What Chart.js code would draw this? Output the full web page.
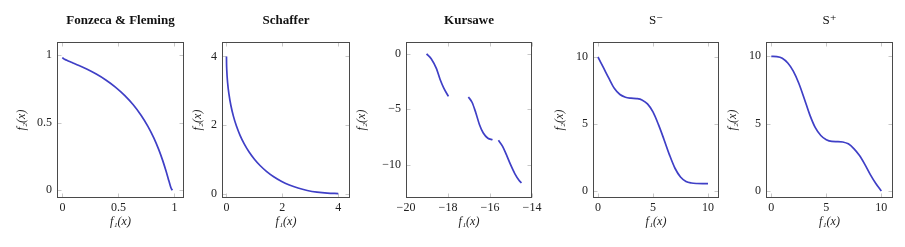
<!DOCTYPE html>
<html>
<head>
<meta charset="utf-8">
<script src="https://cdn.jsdelivr.net/npm/chart.js@4.4.0/dist/chart.umd.min.js"></script>
<style>
  body { margin: 0; background: #fff; width: 905px; height: 247px; overflow: hidden; position: relative; }
  .panel { position: absolute; top: 0; height: 247px; }
</style>
</head>
<body>
<div class="panel" id="p1"><canvas id="c1"></canvas></div>
<div class="panel" id="p2"><canvas id="c2"></canvas></div>
<div class="panel" id="p3"><canvas id="c3"></canvas></div>
<div class="panel" id="p4"><canvas id="c4"></canvas></div>
<div class="panel" id="p5"><canvas id="c5"></canvas></div>
<script>
// Fonzeca & Fleming front
const ffF1 = [0, 0.0100, 0.0392, 0.0861, 0.1479, 0.2212, 0.3023, 0.3874, 0.4727, 0.5551, 0.6321,
              0.7018, 0.7631, 0.8155, 0.8591, 0.8946, 0.9227, 0.9444, 0.9608, 0.9729, 0.9817];
const ffF2 = [0.9817, 0.9729, 0.9608, 0.9444, 0.9227, 0.8946, 0.8591, 0.8155, 0.7631, 0.7018, 0.6321,
              0.5551, 0.4727, 0.3874, 0.3023, 0.2212, 0.1479, 0.0861, 0.0392, 0.0100, 0];

// Schaffer front
const schF1 = [0, 0.0025, 0.01, 0.04, 0.09, 0.16, 0.25, 0.36, 0.49, 0.64, 0.81, 1,
               1.21, 1.44, 1.69, 1.96, 2.25, 2.56, 2.89, 3.24, 3.61, 4];
const schF2 = [4, 3.8025, 3.61, 3.24, 2.89, 2.56, 2.25, 1.96, 1.69, 1.44, 1.21, 1,
               0.81, 0.64, 0.49, 0.36, 0.25, 0.16, 0.09, 0.04, 0.01, 0];

// Kursawe front, three pieces
const kurF1a = [-19.02, -18.80, -18.55, -18.38, -18.20, -17.98];
const kurF2a = [-0.02, -0.45, -1.35, -2.30, -3.10, -3.85];
const kurF1b = [-17.03, -16.85, -16.68, -16.50, -16.32, -16.10, -15.88];
const kurF2b = [-3.90, -4.40, -5.30, -6.40, -7.15, -7.62, -7.75];
const kurF1c = [-15.60, -15.40, -15.22, -15.02, -14.82, -14.62, -14.50];
const kurF2c = [-7.80, -8.35, -9.10, -10.00, -10.80, -11.40, -11.64];

// S- front
const smF1 = [0, 0.5, 1, 1.5, 2, 2.5, 3, 3.5, 4, 4.5, 5, 5.5, 6, 6.5, 7, 7.5, 8, 8.5, 9, 9.5, 10];
const smF2 = [10, 9.2, 8.4, 7.65, 7.2, 7.0, 6.93, 6.9, 6.8, 6.5, 5.9, 4.95, 3.85, 2.7, 1.7, 1.05, 0.72, 0.6, 0.56, 0.55, 0.55];

// S+ front
const spF1 = [0, 0.5, 1, 1.5, 2, 2.5, 3, 3.5, 4, 4.5, 5, 5.5, 6, 6.5, 7, 7.5, 8, 8.5, 9, 9.5, 10];
const spF2 = [10, 9.98, 9.86, 9.5, 8.9, 8.0, 6.85, 5.65, 4.7, 4.12, 3.8, 3.68, 3.67, 3.64, 3.5, 3.15, 2.65, 1.98, 1.22, 0.56, 0];

// tick values
const ffTicks = [0, 0.5, 1];
const schTicks = [0, 2, 4];
const kurXTicks = [-20, -18, -16, -14];
const kurYTicks = [0, -5, -10];
const sTicks = [0, 5, 10];

const titles = ["Fonzeca & Fleming", "Schaffer", "Kursawe", "S\u207B", "S\u207A"];
const xLabel = "f\u2081(x)";
const yLabel = "f\u2082(x)";

const lineColor = "#3f3fc6";
const serif = "'Liberation Serif', 'DejaVu Serif', serif";

function pts(xs, ys) {
  return xs.map((v, i) => ({ x: v, y: ys[i] }));
}

const framePlugin = {
  id: "frame",
  beforeDatasetsDraw(chart) {
    const { ctx, chartArea: a, scales } = chart;
    const l = Math.round(a.left) + 0.5, r = Math.round(a.right) - 0.5;
    const t = Math.round(a.top) + 0.5, b = Math.round(a.bottom) - 0.5;
    ctx.save();
    ctx.strokeStyle = "#c8c8c8";
    ctx.lineWidth = 1;
    ctx.beginPath();
    scales.x.ticks.forEach(tk => {
      const px = Math.round(scales.x.getPixelForValue(tk.value)) + 0.5;
      ctx.moveTo(px, t); ctx.lineTo(px, t + 4);
      ctx.moveTo(px, b); ctx.lineTo(px, b - 4);
    });
    scales.y.ticks.forEach(tk => {
      const py = Math.round(scales.y.getPixelForValue(tk.value)) + 0.5;
      ctx.moveTo(l, py); ctx.lineTo(l + 4, py);
      ctx.moveTo(r, py); ctx.lineTo(r - 4, py);
    });
    ctx.stroke();
    ctx.strokeStyle = "#4a4a4a";
    ctx.strokeRect(l, t, r - l, b - t);
    ctx.restore();
  },
  afterDraw(chart) {
    const o = chart.options.plugins.frame;
    const { ctx, chartArea: a } = chart;
    ctx.save();
    ctx.fillStyle = "#111";
    ctx.font = (o.bold ? "bold " : "") + "13px " + serif;
    ctx.textAlign = "center";
    ctx.textBaseline = "middle";
    ctx.fillText(o.text, (a.left + a.right) / 2, 21);
    ctx.restore();
  }
};

function makePanel(n, cfg) {
  const div = document.getElementById("p" + n);
  div.style.left = cfg.left + "px";
  div.style.width = (cfg.frameRight - cfg.left + 12) + "px";
  const datasets = cfg.series.map(s => ({
    data: s,
    showLine: true,
    borderColor: lineColor,
    borderWidth: 1.7,
    pointRadius: 0,
    fill: false,
    cubicInterpolationMode: "monotone"
  }));
  const tickFont = { family: serif, size: 12 };
  const titleFont = { family: serif, size: 12, style: "italic" };
  const fmt = v => String(v).replace("-", "\u2212");
  new Chart(document.getElementById("c" + n), {
    type: "scatter",
    data: { datasets: datasets },
    options: {
      responsive: true,
      maintainAspectRatio: false,
      animation: false,
      layout: { padding: { top: 42, right: 12, bottom: 0, left: 0 } },
      plugins: {
        legend: { display: false },
        tooltip: { enabled: false },
        frame: { text: cfg.title, bold: cfg.bold }
      },
      scales: {
        x: {
          type: "linear",
          min: cfg.xMin, max: cfg.xMax,
          grid: { display: false, drawTicks: false },
          border: { display: false },
          afterBuildTicks: ax => { ax.ticks = cfg.xTicks.map(v => ({ value: v })); },
          afterFit: ax => { ax.height = 49; ax.paddingLeft = 0; ax.paddingRight = 0; },
          ticks: { font: tickFont, color: "#222", padding: 3, maxRotation: 0, callback: fmt },
          title: { display: true, text: xLabel, font: titleFont, color: "#222", padding: { top: 0, bottom: 18 } }
        },
        y: {
          type: "linear",
          min: cfg.yMin, max: cfg.yMax,
          grid: { display: false, drawTicks: false },
          border: { display: false },
          afterBuildTicks: ax => { ax.ticks = cfg.yTicks.map(v => ({ value: v })); },
          afterFit: ax => { ax.width = cfg.frameLeft - cfg.left; ax.paddingTop = 0; ax.paddingBottom = 0; },
          ticks: { font: tickFont, color: "#222", padding: 5, callback: fmt },
          title: { display: true, text: yLabel, font: titleFont, color: "#222", padding: 0 }
        }
      }
    },
    plugins: [framePlugin]
  });
}

makePanel(1, {
  title: titles[0], bold: true, left: 15, frameLeft: 57, frameRight: 184,
  xMin: -0.048, xMax: 1.085, yMin: -0.057, yMax: 1.096,
  xTicks: ffTicks, yTicks: ffTicks, series: [pts(ffF1, ffF2)]
});
makePanel(2, {
  title: titles[1], bold: true, left: 191, frameLeft: 222, frameRight: 350,
  xMin: -0.16, xMax: 4.42, yMin: -0.13, yMax: 4.42,
  xTicks: schTicks, yTicks: schTicks, series: [pts(schF1, schF2)]
});
makePanel(3, {
  title: titles[2], bold: true, left: 355, frameLeft: 406, frameRight: 532,
  xMin: -20, xMax: -14, yMin: -13, yMax: 1.05,
  xTicks: kurXTicks, yTicks: kurYTicks,
  series: [pts(kurF1a, kurF2a), pts(kurF1b, kurF2b), pts(kurF1c, kurF2c)]
});
makePanel(4, {
  title: titles[3], bold: false, left: 553, frameLeft: 593, frameRight: 719,
  xMin: -0.45, xMax: 11.0, yMin: -0.52, yMax: 11.12,
  xTicks: sTicks, yTicks: sTicks, series: [pts(smF1, smF2)]
});
makePanel(5, {
  title: titles[4], bold: false, left: 726, frameLeft: 766, frameRight: 893,
  xMin: -0.48, xMax: 11.06, yMin: -0.52, yMax: 11.06,
  xTicks: sTicks, yTicks: sTicks, series: [pts(spF1, spF2)]
});
</script>
</body>
</html>
